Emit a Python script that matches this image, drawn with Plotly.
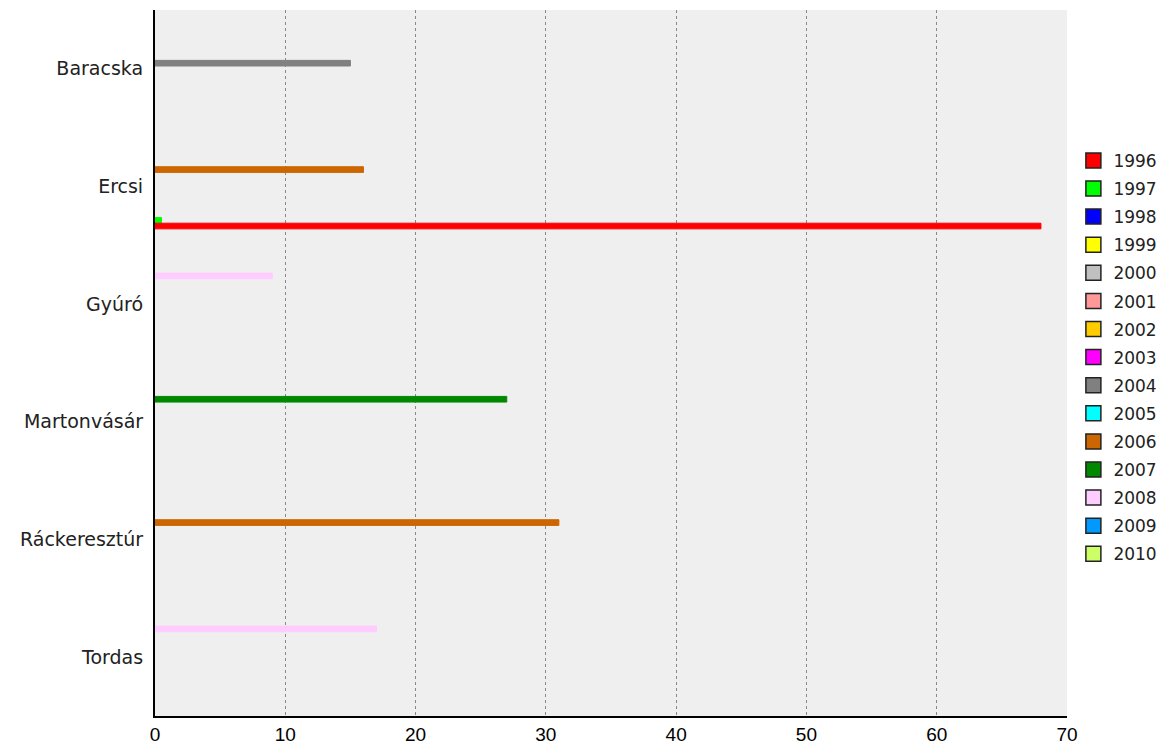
import plotly.graph_objects as go

categories = ["Baracska", "Ercsi", "Gyúró", "Martonvásár", "Ráckeresztúr", "Tordas"]
years = ["1996", "1997", "1998", "1999", "2000", "2001", "2002", "2003",
         "2004", "2005", "2006", "2007", "2008", "2009", "2010"]
colors = ["#ff0000", "#00ff00", "#0000ff", "#ffff00", "#c0c0c0", "#ff9999",
          "#ffcc00", "#ff00ff", "#808080", "#00ffff", "#cc6600", "#008800",
          "#ffccff", "#0099ff", "#ccff66"]

v1996 = [None, 68, None, None, None, None]
v1997 = [None, 0.5, None, None, None, None]
v1998 = [None, None, None, None, None, None]
v1999 = [None, None, None, None, None, None]
v2000 = [None, None, None, None, None, None]
v2001 = [None, None, None, None, None, None]
v2002 = [None, None, None, None, None, None]
v2003 = [None, None, None, None, None, None]
v2004 = [15, None, None, None, None, None]
v2005 = [None, None, None, None, None, None]
v2006 = [None, 16, None, None, 31, None]
v2007 = [None, None, None, 27, None, None]
v2008 = [None, None, 9, None, None, 17]
v2009 = [None, None, None, None, None, None]
v2010 = [None, None, None, None, None, None]

series = [v1996, v1997, v1998, v1999, v2000, v2001, v2002, v2003,
          v2004, v2005, v2006, v2007, v2008, v2009, v2010]

fig = go.Figure()
# add in reverse so 1996 sits at the bottom of each group (y axis reversed)
for i in reversed(range(len(years))):
    fig.add_trace(go.Bar(
        y=categories, x=series[i], orientation="h", name=years[i],
        marker=dict(color=colors[i], line=dict(width=1, color=colors[i])),
        showlegend=False,
    ))
for i in range(len(years)):
    fig.add_trace(go.Scatter(
        x=[None], y=[None], mode="markers", name=years[i],
        marker=dict(symbol="square", size=15, color=colors[i],
                    line=dict(color="#222222", width=1.5)),
        legendgroup=years[i], showlegend=True,
    ))

# page body has an 8px margin; figure coords are offset by it
fig.update_layout(
    width=1160, height=745,
    margin=dict(l=147, r=101, t=2, b=37, autoexpand=False),
    paper_bgcolor="white", plot_bgcolor="#efefef",
    barmode="group", bargap=0.28, bargroupgap=0,
    font=dict(family="DejaVu Sans, sans-serif", size=18, color="#000"),
    legend=dict(x=1.007, y=0.508, xanchor="left", yanchor="middle",
                traceorder="grouped", tracegroupgap=3,
                font=dict(size=17, color="#222"), itemwidth=30, bgcolor="rgba(0,0,0,0)"),
    xaxis=dict(range=[0, 70], dtick=10, showgrid=True, gridcolor="#888888",
               griddash="dot", gridwidth=1, zeroline=False, showline=True,
               linecolor="#000", linewidth=2, ticks="", automargin=False,
               tickfont=dict(size=19, family="Liberation Sans, sans-serif")),
    yaxis=dict(categoryorder="array", categoryarray=categories, autorange="reversed",
               showgrid=False, showline=True, linecolor="#000", linewidth=2,
               ticks="", ticklen=0, ticksuffix=" ", automargin=False,
               tickfont=dict(size=19, color="#222")),
)

fig.write_html("out.html")
